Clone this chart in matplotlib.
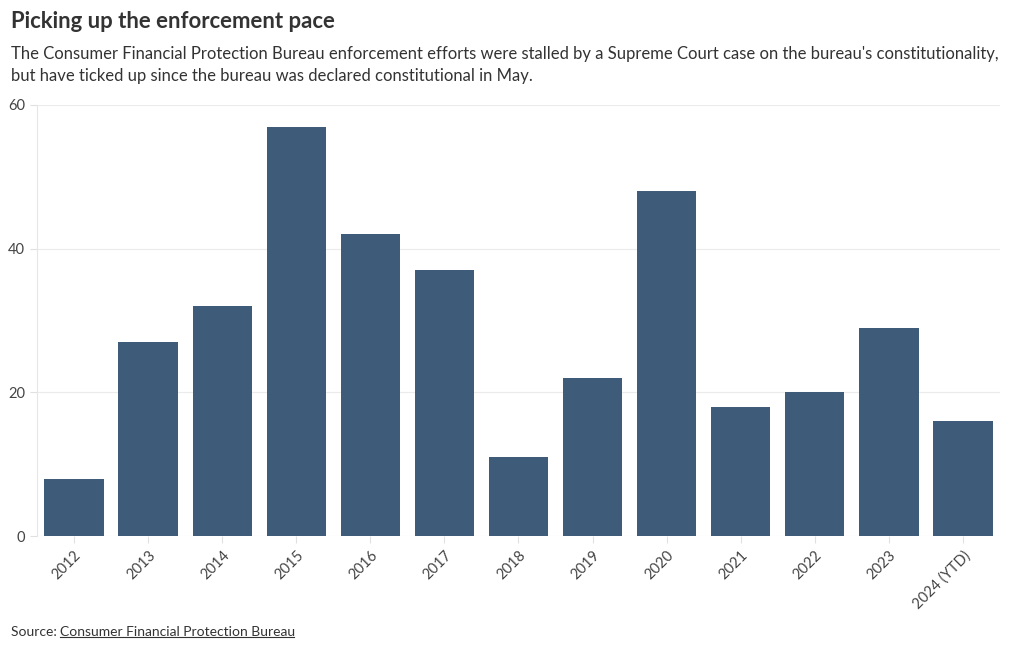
import matplotlib
matplotlib.use("Agg")
import matplotlib.pyplot as plt
from matplotlib.lines import Line2D

years = ["2012", "2013", "2014", "2015", "2016", "2017", "2018", "2019",
         "2020", "2021", "2022", "2023", "2024 (YTD)"]
actions = [8, 27, 32, 57, 42, 37, 11, 22, 48, 18, 20, 29, 16]
yticks = [0, 20, 40, 60]

plt.rcParams['font.family'] = ['Lato', 'DejaVu Sans']

fig = plt.figure(figsize=(10.2, 6.5), dpi=100)
ax = fig.add_axes([37/1020, 1-536/650, (1000-37)/1020, (536-105)/650])

x = list(range(len(years)))
ax.bar(x, actions, width=0.8, color="#3e5c7a")
ax.set_xlim(-0.5, len(years)-0.5)
ax.set_ylim(0, 60)
ax.set_yticks(yticks)
ax.set_yticklabels([str(v) for v in yticks])
ax.set_xticks(x)
ax.set_xticklabels(years, rotation=45, ha="right", rotation_mode="anchor")
ax.grid(axis="y", color="#ebebeb", linewidth=0.8)
ax.set_axisbelow(True)
for s in ["top", "right", "bottom"]:
    ax.spines[s].set_visible(False)
ax.spines["left"].set_color("#e6e6e6")
ax.tick_params(axis="both", colors="#e0e0e0", labelcolor="#444444", labelsize=10.5, length=5)
ax.tick_params(axis="x", pad=4)

fig.text(11/1020, 1-22/650, "Picking up the enforcement pace", fontsize=15.9, fontweight="bold",
         color="#333333", va="center")
fig.text(11/1020, 1-65/650,
         "The Consumer Financial Protection Bureau enforcement efforts were stalled by a Supreme Court case on the bureau's constitutionality,\nbut have ticked up since the bureau was declared constitutional in May.",
         fontsize=12.0, color="#333333", va="center", linespacing=1.4)
t1 = fig.text(11/1020, 1-632/650, "Source: ", fontsize=10, color="#333333", va="center")
fig.canvas.draw()
bb = t1.get_window_extent()
t2 = fig.text(bb.x1/1020, 1-632/650, "Consumer Financial Protection Bureau", fontsize=10,
              color="#333333", va="center")
fig.canvas.draw()
bb2 = t2.get_window_extent()
uy = (bb2.y0 + 1.5) / 650
fig.add_artist(Line2D([bb2.x0/1020, bb2.x1/1020 - 2/1020], [uy, uy], transform=fig.transFigure,
                      color="#333333", linewidth=0.8))
fig.savefig("out.png", dpi=100)
